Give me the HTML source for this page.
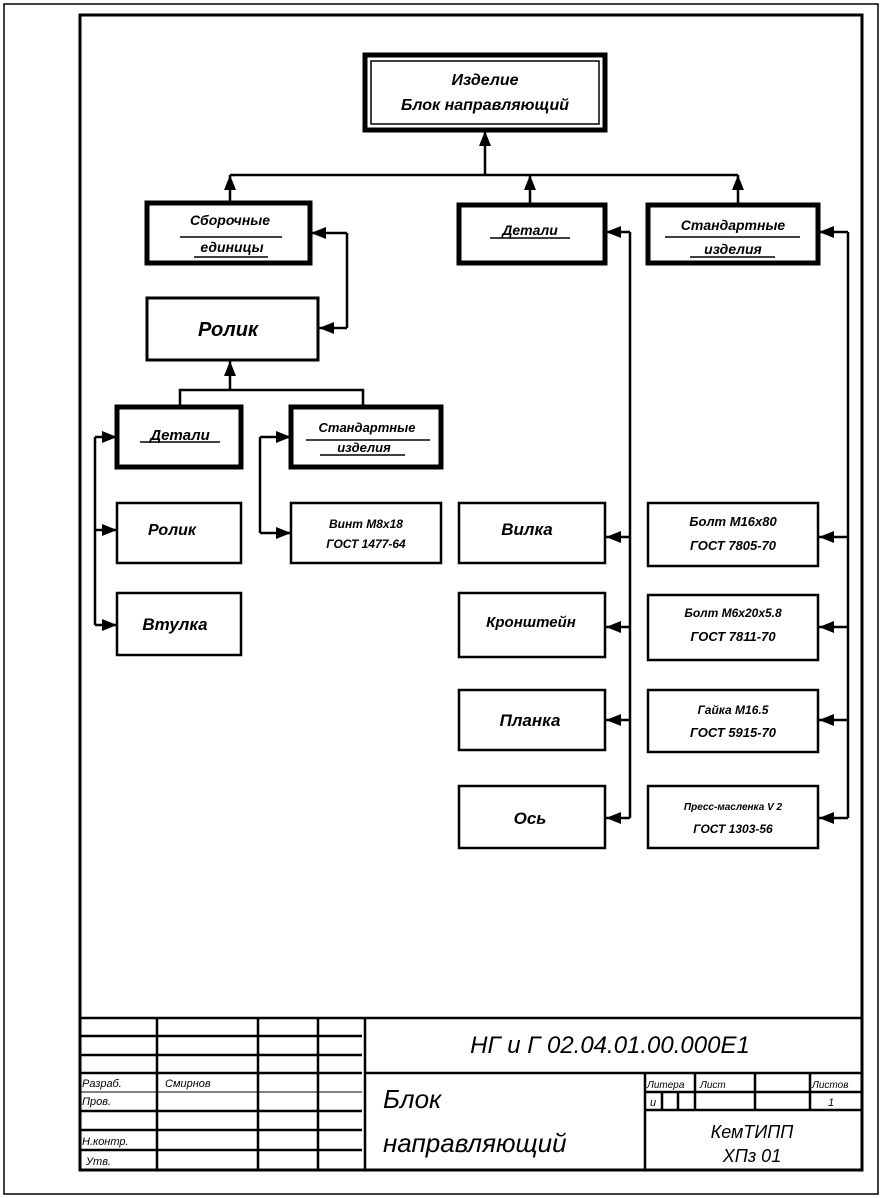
<!DOCTYPE html>
<html><head><meta charset="utf-8"><style>
body{margin:0;background:#fff}
svg{display:block}
text{font-family:"Liberation Sans","DejaVu Sans",sans-serif;font-style:italic;fill:#000}
</style></head><body>
<svg width="883" height="1198" viewBox="0 0 883 1198" xmlns="http://www.w3.org/2000/svg">
<defs><marker id="a" viewBox="0 0 10 10" refX="10" refY="5" markerWidth="6" markerHeight="6" orient="auto-start-reverse"><path d="M0,1L10,5L0,9z" fill="#000"/></marker></defs>
<rect x="4" y="4" width="874" height="1190" fill="none" stroke="#000" stroke-width="1.5"/>
<rect x="80" y="15" width="782" height="1155" fill="none" stroke="#000" stroke-width="3"/>
<g fill="none" stroke="#000">
<rect x="365" y="55" width="240" height="75" stroke-width="5"/>
<rect x="371" y="61" width="228" height="63" stroke-width="1.5"/>
<rect x="147" y="203" width="163" height="60" stroke-width="5"/>
<rect x="459" y="205" width="146" height="58" stroke-width="5"/>
<rect x="648" y="205" width="170" height="58" stroke-width="5"/>
<rect x="147" y="298" width="171" height="62" stroke-width="3"/>
<rect x="117" y="407" width="124" height="60" stroke-width="5"/>
<rect x="291" y="407" width="150" height="60" stroke-width="5"/>
<g stroke-width="2.5">
<rect x="117" y="503" width="124" height="60"/>
<rect x="117" y="593" width="124" height="62"/>
<rect x="291" y="503" width="150" height="60"/>
<rect x="459" y="503" width="146" height="60"/>
<rect x="459" y="593" width="146" height="64"/>
<rect x="459" y="690" width="146" height="60"/>
<rect x="459" y="786" width="146" height="62"/>
<rect x="648" y="503" width="170" height="63"/>
<rect x="648" y="595" width="170" height="65"/>
<rect x="648" y="690" width="170" height="62"/>
<rect x="648" y="786" width="170" height="62"/>
</g>
<g stroke-width="2.5" marker-end="url(#a)">
<path d="M485 175V131"/>
<path d="M230 203V175"/><path d="M530 205V175"/><path d="M738 205V175"/>
<path d="M347 233H311"/><path d="M347 328H319"/>
<path d="M630 232H606"/><path d="M630 537H606"/><path d="M630 627H606"/><path d="M630 720H606"/><path d="M630 818H606"/>
<path d="M848 232H819"/><path d="M848 537H819"/><path d="M848 627H819"/><path d="M848 720H819"/><path d="M848 818H819"/>
<path d="M230 390V361"/>
<path d="M95 437H117"/><path d="M95 530H117"/><path d="M95 625H117"/>
<path d="M260 437H291"/><path d="M260 533H291"/>
</g>
<g stroke-width="2.5">
<path d="M230 175H738"/><path d="M347 233V328"/><path d="M630 232V818"/><path d="M848 232V818"/>
<path d="M180 407V390H363V407"/><path d="M95 437V625"/><path d="M260 437V533"/>
</g>
<g stroke-width="2.5">
<path d="M80 1018H862"/><path d="M365 1018V1170"/><path d="M365 1073H862"/><path d="M645 1073V1170"/>
<path d="M157 1018V1170"/><path d="M258 1018V1170"/><path d="M318 1018V1170"/>
<path d="M80 1036H362M80 1055H362M80 1073H362M80 1111H362M80 1130H362M80 1150H362"/>
<path d="M645 1092H862M645 1110H862"/><path d="M695 1073V1110M755 1073V1110M810 1073V1110"/>
<path d="M662 1092V1110M678 1092V1110"/>
</g>
<g stroke-width="1"><path d="M80 1092H362"/></g>
<g stroke-width="1.5">
<path d="M180 237H282M194 257H268M490 238H570M665 237H800M690 257H775M140 442H220M306 440H430M320 455H405"/>
</g>
</g>
<g text-anchor="middle" font-weight="bold">
<text x="485" y="85" font-size="16">Изделие</text>
<text x="485" y="110" font-size="16">Блок направляющий</text>
<text x="230" y="225" font-size="14">Сборочные</text>
<text x="232" y="252" font-size="14">единицы</text>
<text x="530" y="235" font-size="14">Детали</text>
<text x="733" y="230" font-size="14">Стандартные</text>
<text x="733" y="254" font-size="14">изделия</text>
<text x="228" y="336" font-size="20">Ролик</text>
<text x="180" y="440" font-size="15">Детали</text>
<text x="367" y="432" font-size="13">Стандартные</text>
<text x="364" y="452" font-size="13">изделия</text>
<text x="172" y="535" font-size="16">Ролик</text>
<text x="175" y="630" font-size="17">Втулка</text>
<text x="366" y="528" font-size="12">Винт М8х18</text>
<text x="366" y="548" font-size="12">ГОСТ 1477-64</text>
<text x="527" y="535" font-size="17">Вилка</text>
<text x="531" y="627" font-size="15">Кронштейн</text>
<text x="530" y="726" font-size="17">Планка</text>
<text x="530" y="824" font-size="17">Ось</text>
<text x="733" y="526" font-size="13">Болт М16х80</text>
<text x="733" y="550" font-size="13">ГОСТ 7805-70</text>
<text x="733" y="617" font-size="12">Болт М6х20х5.8</text>
<text x="733" y="641" font-size="13">ГОСТ 7811-70</text>
<text x="733" y="714" font-size="12">Гайка М16.5</text>
<text x="733" y="737" font-size="13">ГОСТ 5915-70</text>
<text x="733" y="810" font-size="10">Пресс-масленка V 2</text>
<text x="733" y="833" font-size="12">ГОСТ 1303-56</text>
<text x="610" y="1053" font-size="24" font-weight="normal">НГ и Г 02.04.01.00.000Е1</text>
<text x="752" y="1138" font-size="18" font-weight="normal">КемТИПП</text>
<text x="752" y="1162" font-size="18" font-weight="normal">ХПз 01</text>
</g>
<text x="383" y="1108" font-size="26">Блок</text>
<text x="383" y="1152" font-size="26">направляющий</text>
<g font-size="11">
<text x="82" y="1087">Разраб.</text><text x="165" y="1087">Смирнов</text>
<text x="82" y="1105">Пров.</text>
<text x="82" y="1145">Н.контр.</text>
<text x="86" y="1165">Утв.</text>
<text x="647" y="1088" font-size="10">Литера</text><text x="700" y="1088" font-size="10">Лист</text><text x="812" y="1088" font-size="10">Листов</text>
<text x="650" y="1106">и</text><text x="828" y="1106">1</text>
</g>
</svg>
</body></html>
